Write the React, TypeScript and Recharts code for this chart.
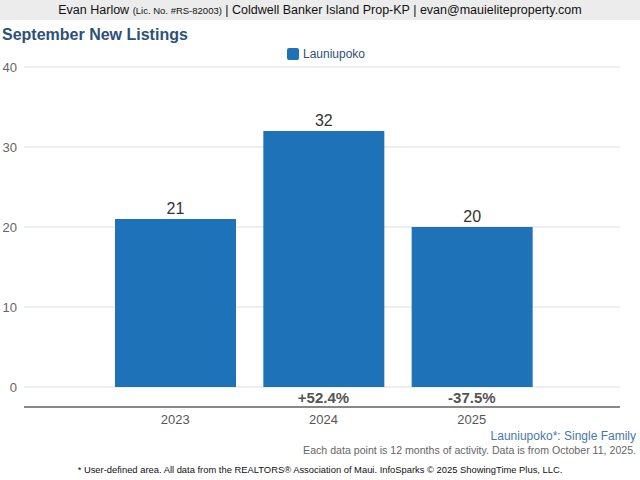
import React from 'react';
import { BarChart, Bar, XAxis, YAxis, CartesianGrid, LabelList } from 'recharts';

// Values
const years = ['2023', '2024', '2025'];
const listings = [21, 32, 20];
const changes = ['', '+52.4%', '-37.5%'];
const yTicks = [0, 10, 20, 30, 40];

const BAR_COLOR = '#1e72b8';
const FONT = '"Liberation Sans", Arial, sans-serif';

const chartData = years.map((year, i) => ({
  year,
  value: listings[i],
  change: changes[i],
}));

// Year under the axis line, percent change just above it
function YearTick(props: any) {
  const { x, y, payload, index } = props;
  const change = changes[index] ?? '';
  return (
    <g>
      {change && (
        <text
          x={x}
          y={y - 4}
          textAnchor="middle"
          fontSize={15}
          fontWeight="bold"
          fill="#555"
          fontFamily={FONT}
        >
          {change}
        </text>
      )}
      <text x={x} y={y + 17} textAnchor="middle" fontSize={13} fill="#555" fontFamily={FONT}>
        {payload.value}
      </text>
    </g>
  );
}

export default function App() {
  return (
    <div
      style={{
        position: 'absolute',
        top: 0,
        left: 0,
        width: 640,
        height: 480,
        background: '#fff',
        fontFamily: FONT,
        overflow: 'hidden',
      }}
    >
      {/* agent header */}
      <div
        style={{
          height: 20,
          background: '#ececec',
          textAlign: 'center',
          fontSize: 12.5,
          lineHeight: '20px',
          color: '#111',
          whiteSpace: 'nowrap',
        }}
      >
        Evan Harlow <span style={{ fontSize: 9.5 }}>(Lic. No. #RS-82003)</span> | Coldwell Banker
        Island Prop-KP | evan@mauieliteproperty.com
      </div>

      <div
        style={{
          position: 'absolute',
          left: 2,
          top: 26,
          fontSize: 16,
          fontWeight: 'bold',
          color: '#2d5079',
        }}
      >
        September New Listings
      </div>

      {/* legend */}
      <div
        style={{
          position: 'absolute',
          top: 47,
          left: 0,
          width: 640,
          display: 'flex',
          justifyContent: 'center',
          alignItems: 'center',
          fontSize: 12,
          color: '#2d5079',
        }}
      >
        <div
          style={{
            width: 12,
            height: 12,
            borderRadius: 2,
            background: BAR_COLOR,
            marginRight: 4,
            marginLeft: 12,
          }}
        />
        Launiupoko
      </div>

      <div style={{ position: 'absolute', top: 0, left: 0 }}>
        <BarChart
          width={640}
          height={440}
          data={chartData}
          margin={{ top: 67, right: 20, bottom: 0, left: 0 }}
        >
          <CartesianGrid vertical={false} stroke="#ddd" />
          <YAxis
            width={24}
            domain={[-2.5, 40]}
            ticks={yTicks}
            interval={0}
            axisLine={false}
            tickLine={false}
            tickSize={0}
            tickMargin={7}
            tick={{ fontSize: 13, fill: '#666', fontFamily: FONT }}
          />
          <XAxis
            dataKey="year"
            height={33}
            axisLine={{ stroke: '#666', strokeWidth: 1.5 }}
            tickLine={false}
            tickSize={0}
            tickMargin={0}
            padding={{ left: 77, right: 74 }}
            tick={<YearTick />}
            interval={0}
          />
          <Bar dataKey="value" fill={BAR_COLOR} barSize={121} isAnimationActive={false}>
            <LabelList
              dataKey="value"
              position="top"
              offset={5}
              fontSize={16}
              fill="#333"
              fontFamily={FONT}
            />
          </Bar>
        </BarChart>
      </div>

      {/* notes */}
      <div
        style={{
          position: 'absolute',
          right: 4,
          top: 429,
          fontSize: 12,
          color: '#4a77aa',
        }}
      >
        Launiupoko*: Single Family
      </div>
      <div
        style={{
          position: 'absolute',
          right: 4,
          top: 444,
          fontSize: 10.6,
          color: '#666',
        }}
      >
        Each data point is 12 months of activity. Data is from October 11, 2025.
      </div>
      <div
        style={{
          position: 'absolute',
          left: 0,
          width: 640,
          top: 464,
          textAlign: 'center',
          fontSize: 9.4,
          color: '#111',
        }}
      >
        * User-defined area. All data from the REALTORS® Association of Maui. InfoSparks © 2025
        ShowingTime Plus, LLC.
      </div>
    </div>
  );
}
